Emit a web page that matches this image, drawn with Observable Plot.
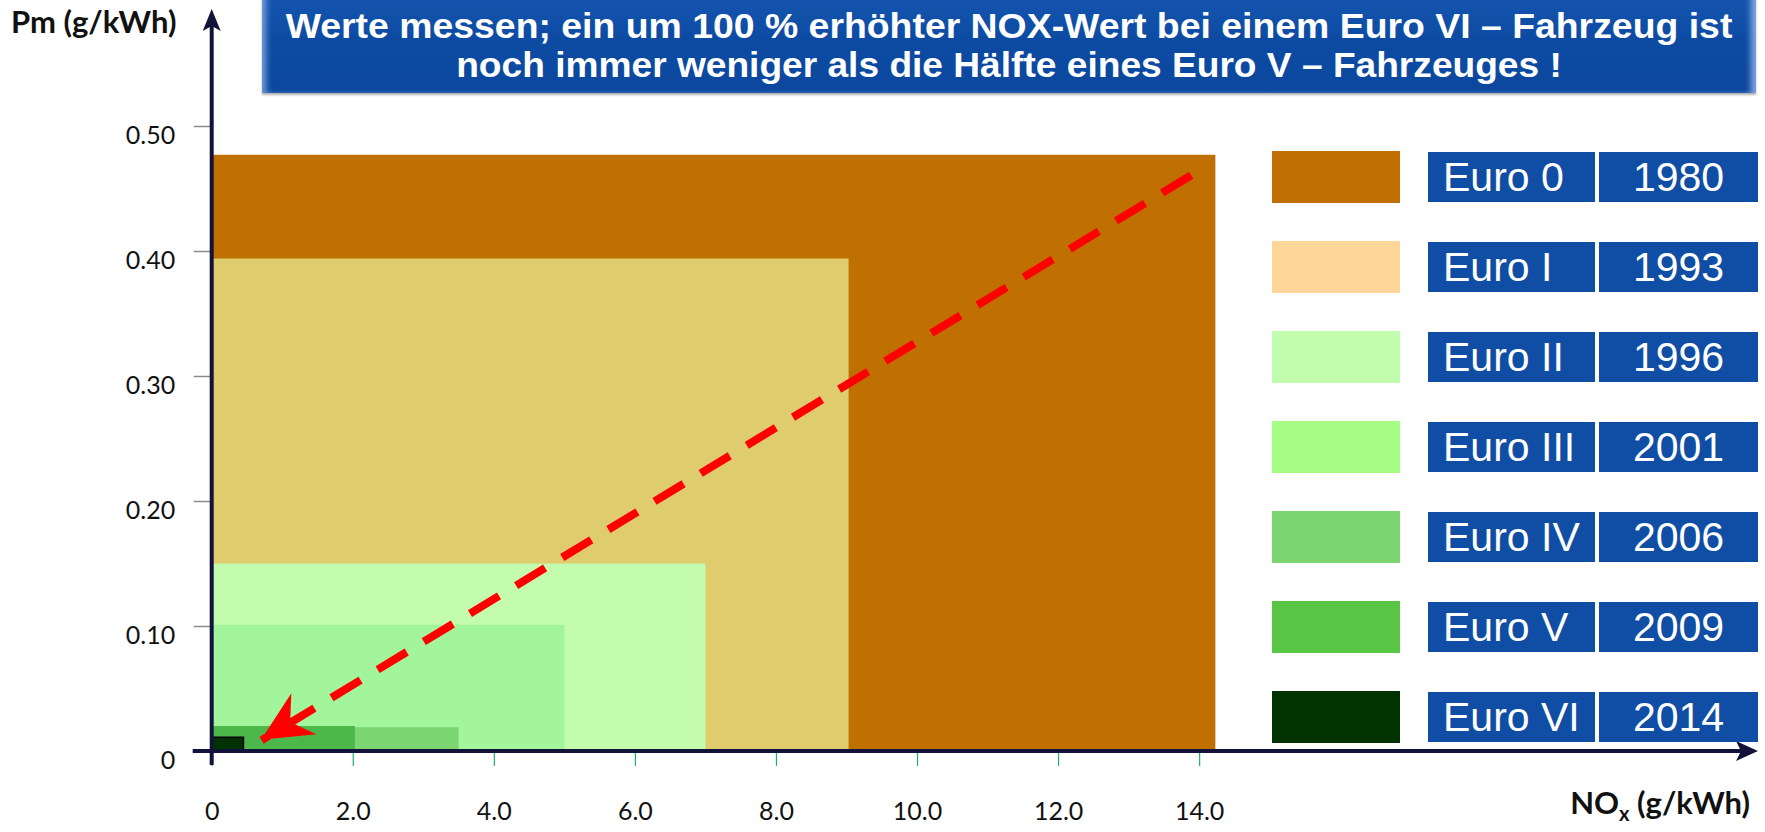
<!DOCTYPE html>
<html><head><meta charset="utf-8">
<script src="https://cdn.jsdelivr.net/npm/d3@7"></script>
<script src="https://cdn.jsdelivr.net/npm/@observablehq/plot@0.6"></script>
<style>
html,body{margin:0;padding:0;background:#fff;}
#wrap{position:relative;width:1765px;height:832px;overflow:hidden;}
#wrap > svg.chart{position:absolute;left:0;top:0;}
#title{position:absolute;left:262px;top:-6px;width:1494px;height:99px;
  background:linear-gradient(to bottom,#1556b0 0%,#0d4ba3 45%,#0b479d 100%);
  box-shadow:inset 7px 0 6px -3px rgba(150,185,235,0.75), inset -8px 0 6px -3px rgba(150,185,235,0.85), 0 2px 2px rgba(80,80,80,0.45);}
#title svg{position:absolute;left:0;top:0;}
.sw{position:absolute;}
.lb{position:absolute;background:#104ea5;color:#fff;font-family:"Liberation Sans",Arial,sans-serif;font-size:41px;line-height:50px;height:50px;white-space:nowrap;}
</style></head>
<body><div id="wrap"></div>
<script>
// ---- data ----
const stages = ["Euro 0", "Euro I", "Euro II", "Euro III", "Euro IV", "Euro V", "Euro VI"];
const years = ["1980", "1993", "1996", "2001", "2006", "2009", "2014"];
const noxLimit = [14.23, 9.03, 7.0, 5.0, 3.5, 2.03, 0.45];      // NOx g/kWh
const pmLimit = [0.477, 0.394, 0.15, 0.101, 0.019, 0.02, 0.011]; // PM g/kWh
const areaColors = ["#BF7000", "#DFCC6E", "#C2FCAC", "#A2F59A", "#7BD672", "#4CB84C", "#003300"];
const legendColors = ["#BF7000", "#FFD699", "#C2FDAE", "#A5FD84", "#7BD672", "#59C545", "#003300"];
const xTicks = [0, 2, 4, 6, 8, 10, 12, 14];
const xTickLabels = ["0", "2.0", "4.0", "6.0", "8.0", "10.0", "12.0", "14.0"];
const yTicks = [0, 0.1, 0.2, 0.3, 0.4, 0.5];
const yTickLabels = ["0", "0.10", "0.20", "0.30", "0.40", "0.50"];
const arrowNox = [13.88, 0.70];   // start, end
const arrowPm = [0.461, 0.009];
const titleLines = [
  "Werte messen; ein um 100 % erhöhter NOX-Wert bei einem Euro VI – Fahrzeug ist",
  "noch immer weniger als die Hälfte eines Euro V – Fahrzeuges !"
];
const yTitle = "Pm (g/kWh)";
const xTitle = ["NO", "x", " (g/kWh)"];

// ---- build ----
const rects = stages.map((s, i) => ({stage: s, nox: noxLimit[i], pm: pmLimit[i], color: areaColors[i], edge: i === stages.length - 1 ? "#000000" : "none"}));
const arrow = [{x1: arrowNox[0], y1: arrowPm[0], x2: arrowNox[1], y2: arrowPm[1]}];
const ink = "#12123a";

function furniture(index, scales, values, dims) {
  const {x, y} = scales;
  const X0 = x(0), Y0 = y(0);
  const g = d3.create("svg:g");
  // x axis
  g.append("line").attr("x1", X0 - 19).attr("x2", dims.width - 22).attr("y1", Y0).attr("y2", Y0)
    .attr("stroke", ink).attr("stroke-width", 4);
  const tx = dims.width - 7;
  g.append("path").attr("d", `M${tx},${Y0} L${tx - 22},${Y0 - 10} L${tx - 17},${Y0} L${tx - 22},${Y0 + 10} Z`).attr("fill", ink);
  // y axis
  g.append("line").attr("x1", X0).attr("x2", X0).attr("y1", Y0 + 14).attr("y2", 26)
    .attr("stroke", ink).attr("stroke-width", 4);
  const ty = 9;
  g.append("path").attr("d", `M${X0},${ty} L${X0 - 9},${ty + 22} L${X0},${ty + 17} L${X0 + 9},${ty + 22} Z`).attr("fill", ink);
  // axis titles
  g.append("text").attr("x", 11).attr("y", 33).attr("text-anchor", "start").attr("font-size", 31).attr("font-weight", "bold")
    .attr("fill", "#111").attr("font-family", "Lato, sans-serif").text(yTitle);
  const t = g.append("text").attr("x", dims.width - 15).attr("y", 814).attr("text-anchor", "end")
    .attr("font-size", 31).attr("font-weight", "bold").attr("fill", "#111").attr("font-family", "Lato, sans-serif");
  t.append("tspan").text(xTitle[0]);
  t.append("tspan").attr("font-size", 20).attr("dy", 7).text(xTitle[1]);
  t.append("tspan").attr("dy", -7).text(xTitle[2]);
  return g.node();
}

function arrowHead(index, scales) {
  const {x, y} = scales;
  const x0 = x(arrow[0].x1), y0 = y(arrow[0].y1), x1 = x(arrow[0].x2), y1 = y(arrow[0].y2);
  const L = Math.hypot(x1 - x0, y1 - y0), ux = (x1 - x0) / L, uy = (y1 - y0) / L;
  const px = -uy, py = ux;
  const len = 50, half = 24, notch = 34;
  const bx = x1 - ux * len, by = y1 - uy * len;
  const nx = x1 - ux * notch, ny = y1 - uy * notch;
  const d = `M${x1},${y1} L${bx + px * half},${by + py * half} L${nx},${ny} L${bx - px * half},${by - py * half} Z`;
  const g = d3.create("svg:g");
  g.append("path").attr("d", d).attr("fill", "#FF0000");
  return g.node();
}

const chart = Plot.plot({
  width: 1765, height: 832,
  marginLeft: 211.7, marginRight: 1.6, marginTop: 1, marginBottom: 81,
  x: {domain: [0, 22]},
  y: {domain: [0, 0.6]},
  color: {type: "identity"},
  style: {fontFamily: "Lato, sans-serif", background: "transparent"},
  marks: [
    Plot.rect(rects, {x1: 0, x2: "nox", y1: 0, y2: "pm", fill: "color", stroke: "edge", strokeWidth: 1.5}),
    Plot.axisY({ticks: yTicks, tickFormat: () => "", tickSize: 18, stroke: "#8a8a8a", strokeWidth: 1.5, label: null}),
    Plot.axisY({ticks: yTicks, tickFormat: d => yTickLabels[yTicks.indexOf(d)], tickSize: 0, tickPadding: 37,
      fill: "#111", fontSize: 25, dy: 9, label: null}),
    Plot.axisX({ticks: xTicks, tickFormat: d => xTickLabels[xTicks.indexOf(d)], tickSize: 15, tickPadding: 36,
      stroke: "#1DB36B", strokeWidth: 1.2, fill: "#111", fontSize: 25, label: null}),
    furniture,
    Plot.link(arrow, {x1: "x1", y1: "y1", x2: "x2", y2: "y2", stroke: "#FF0000", strokeWidth: 8, strokeDasharray: "34,20"}),
    arrowHead
  ]
});
chart.classList.add("chart");
const wrap = document.getElementById("wrap");
wrap.appendChild(chart);

// title box
const title = document.createElement("div");
title.id = "title";
wrap.appendChild(title);
const tsvg = d3.select(title).append("svg").attr("width", 1494).attr("height", 99);
const titleLens = [1447, 1106];
titleLines.forEach((line, i) => {
  const t = tsvg.append("text").attr("x", 0).attr("y", 0).attr("text-anchor", "middle")
    .attr("fill", "#fff").attr("font-weight", "bold").attr("font-size", 34.5)
    .attr("font-family", "'Liberation Sans',Arial,sans-serif").text(line);
  const w = t.node().getComputedTextLength();
  const s = titleLens[i] / w;
  t.attr("transform", `translate(747,${43.5 + i * 39.5}) scale(${s},1)`);
});

// legend
stages.forEach((s, i) => {
  const top = 151 + 90 * i;
  const sw = document.createElement("div");
  sw.className = "sw";
  Object.assign(sw.style, {left: "1272px", top: top + "px", width: "128px", height: "52px", background: legendColors[i]});
  wrap.appendChild(sw);
  const nb = document.createElement("div");
  nb.className = "lb";
  Object.assign(nb.style, {left: "1428px", top: (top + 1) + "px", width: "152px", paddingLeft: "15px"});
  nb.textContent = s;
  wrap.appendChild(nb);
  const yb = document.createElement("div");
  yb.className = "lb";
  Object.assign(yb.style, {left: "1599px", top: (top + 1) + "px", width: "159px", textAlign: "center"});
  yb.textContent = years[i];
  wrap.appendChild(yb);
});
</script></body></html>
